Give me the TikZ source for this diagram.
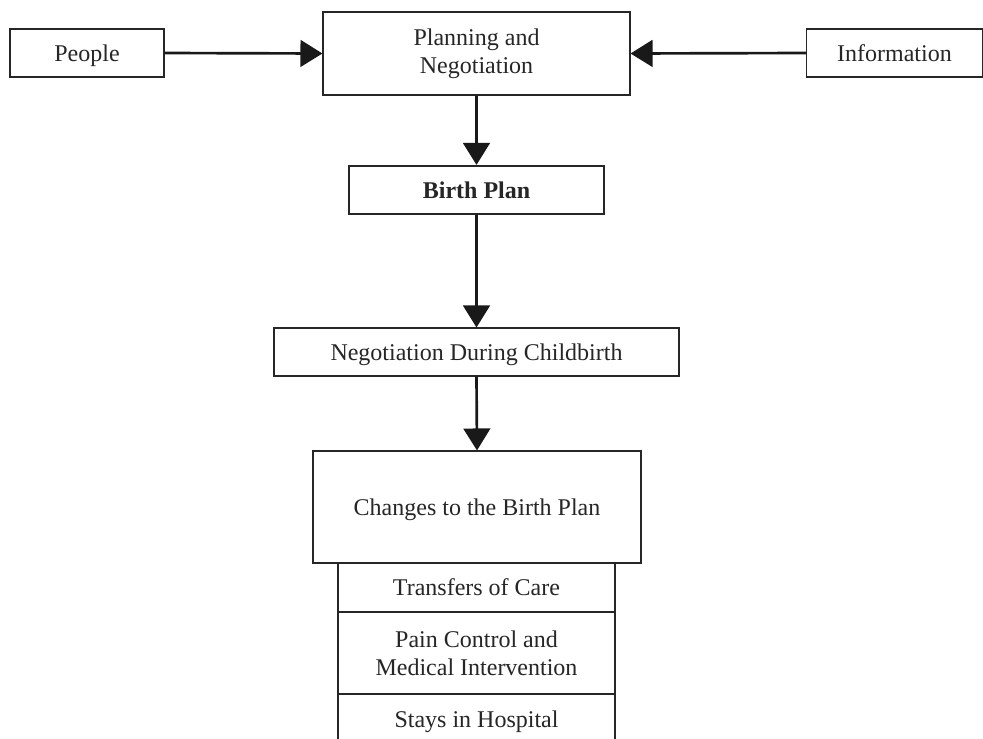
\documentclass[tikz,border=0pt]{standalone}
\usepackage{fontspec}
\setmainfont{Liberation Serif}
\usetikzlibrary{arrows.meta}
\begin{document}
\begin{tikzpicture}[x=0.75pt,y=-0.75pt,
  box/.style={draw=black!85, line width=0.8pt, fill=white, align=center, inner sep=0pt,
    font=\fontsize{18}{21}\selectfont, text=black!85},
  oneline/.style={text height=12pt, text depth=0pt},
  boldbox/.style={box, oneline, line width=1.6pt, font=\fontsize{18}{21}\selectfont\bfseries},
  conn/.style={line width=2pt, draw=black!90, -{Triangle[length=16.5pt,width=20pt]}}]
\useasboundingbox (0,0) rectangle (983,739);
\clip (0,0) rectangle (983,739);
\fill[white] (0,0) rectangle (983,739);
\node[box, oneline, minimum width=154*0.75pt, minimum height=48*0.75pt] (people) at (87,53) {People};
\node[box, minimum width=307*0.75pt, minimum height=83*0.75pt] (plan) at (476.5,53.5) {Planning and\\Negotiation};
\node[box, oneline, minimum width=176*0.75pt, minimum height=48*0.75pt] (info) at (894.5,53) {Information};
\node[boldbox, minimum width=255*0.75pt, minimum height=48*0.75pt] (birth) at (476.5,190) {Birth Plan};
\node[box, oneline, minimum width=405*0.75pt, minimum height=48*0.75pt] (nego) at (476.5,352) {Negotiation During Childbirth};
\node[box, oneline, minimum width=328*0.75pt, minimum height=112*0.75pt] (changes) at (477,507) {Changes to the Birth Plan};
\node[box, oneline, minimum width=277*0.75pt, minimum height=49*0.75pt] (transfers) at (476.5,587.5) {Transfers of Care};
\node[box, minimum width=277*0.75pt, minimum height=82*0.75pt] (pain) at (476.5,653) {Pain Control and\\Medical Intervention};
\node[box, oneline, minimum width=277*0.75pt, minimum height=50*0.75pt] (stays) at (476.5,719) {Stays in Hospital};
\draw[conn] (people.east) -- (plan.west);
\draw[conn] (info.west) -- (plan.east);
\draw[conn] (plan.south) -- (birth.north);
\draw[conn] (birth.south) -- (nego.north);
\draw[conn] (nego.south) -- (changes.north);
\end{tikzpicture}
\end{document}
